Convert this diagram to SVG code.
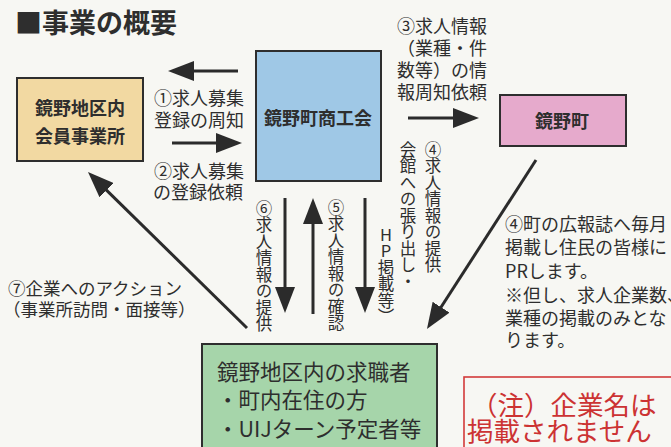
<svg xmlns="http://www.w3.org/2000/svg" width="671" height="447" viewBox="0 0 671 447">
<defs>
<marker id="ah" viewBox="0 0 26 20" refX="18" refY="10" markerWidth="26" markerHeight="20" markerUnits="userSpaceOnUse" orient="auto">
<path d="M0,0 L26,10 L0,20 Z" fill="#2b2b2b"/>
</marker>
</defs>
<style>
text{font-family:"Noto Sans CJK JP","Noto Sans",sans-serif;fill:#2e2e2e;dominant-baseline:central}
.box{stroke:#2e2e2e;stroke-width:2}
.bt{font-size:18px;font-weight:bold;text-anchor:middle}
.lb{font-size:18px}
.vt{font-size:16.5px;writing-mode:vertical-rl;dominant-baseline:central}
.up{text-orientation:upright}
.arr{stroke:#2b2b2b;stroke-width:3;fill:none;marker-end:url(#ah)}
.red{fill:#cc3333;font-size:26.5px}
</style>
<rect width="671" height="447" fill="#f7f7f3"/>
<text x="15" y="21" style="font-size:27px;font-weight:bold">■事業の概要</text>

<g id="member">
<rect class="box" x="17" y="78" width="126" height="83" fill="#f2d9a2"/>
<text class="bt" x="80" y="107">鏡野地区内</text>
<text class="bt" x="80" y="135">会員事業所</text>
</g>

<g id="chamber">
<rect class="box" x="256" y="51" width="125" height="130" fill="#9fc8e6"/>
<text class="bt" x="318" y="117">鏡野町商工会</text>
</g>

<g id="town">
<rect class="box" x="500" y="95" width="126" height="51" fill="#e6aacc"/>
<text class="bt" x="562" y="120">鏡野町</text>
</g>

<g id="seekers">
<rect class="box" x="202" y="344" width="235" height="110" fill="#a6d5aa"/>
<text x="217" y="370" style="font-size:21.5px">鏡野地区内の求職者</text>
<text x="217" y="398" style="font-size:21.5px">・町内在住の方</text>
<text x="217" y="427" style="font-size:21.5px">・UIJターン予定者等</text>
</g>

<g id="note">
<rect x="464" y="377" width="220" height="80" fill="none" stroke="#d23a3a" stroke-width="1.6"/>
<text class="red" x="471" y="403">（注）企業名は</text>
<text class="red" x="467" y="429">掲載されません</text>
</g>

<g id="connectors">
<line class="arr" x1="238" y1="71" x2="176" y2="71"/>
<line class="arr" x1="172" y1="143" x2="234" y2="143"/>
<line class="arr" x1="408" y1="118" x2="471" y2="118"/>
<line class="arr" x1="285" y1="198" x2="285" y2="305"/>
<line class="arr" x1="313" y1="314" x2="313" y2="206"/>
<line class="arr" x1="365" y1="198" x2="365" y2="305"/>
<line class="arr" x1="247" y1="328" x2="93.7" y2="177.6"/>
<line class="arr" x1="536" y1="160" x2="431.3" y2="322.3"/>
</g>

<g id="labels">
<text class="lb" x="154" y="97">①求人募集</text>
<text class="lb" x="154" y="119">登録の周知</text>
<text class="lb" x="154" y="170">②求人募集</text>
<text class="lb" x="153" y="191">の登録依頼</text>
<text class="lb" x="397" y="25">③求人情報</text>
<text class="lb" x="397" y="47">（業種・件</text>
<text class="lb" x="397" y="69">数等）の情</text>
<text class="lb" x="397" y="91">報周知依頼</text>
<text class="vt" x="433" y="141">④求人情報の提供</text>
<text class="vt" x="408" y="141">会館への張り出し・</text>
<text class="vt" x="386" y="226"><tspan class="up">HP</tspan>掲載等）</text>
<text class="vt" x="336" y="199">⑤求人情報の確認</text>
<text class="vt" x="264" y="200">⑥求人情報の提供</text>
<text x="8" y="287" style="font-size:17.5px">⑦企業へのアクション</text>
<text x="3" y="308" style="font-size:17.5px">（事業所訪問・面接等）</text>
<text class="lb" x="505" y="223">④町の広報誌へ毎月</text>
<text class="lb" x="505" y="246">掲載し住民の皆様に</text>
<text class="lb" x="505" y="270">PRします。</text>
<text class="lb" x="505" y="294">※但し、求人企業数、</text>
<text class="lb" x="505" y="317">業種の掲載のみとな</text>
<text class="lb" x="505" y="339">ります。</text>
</g>
</svg>
